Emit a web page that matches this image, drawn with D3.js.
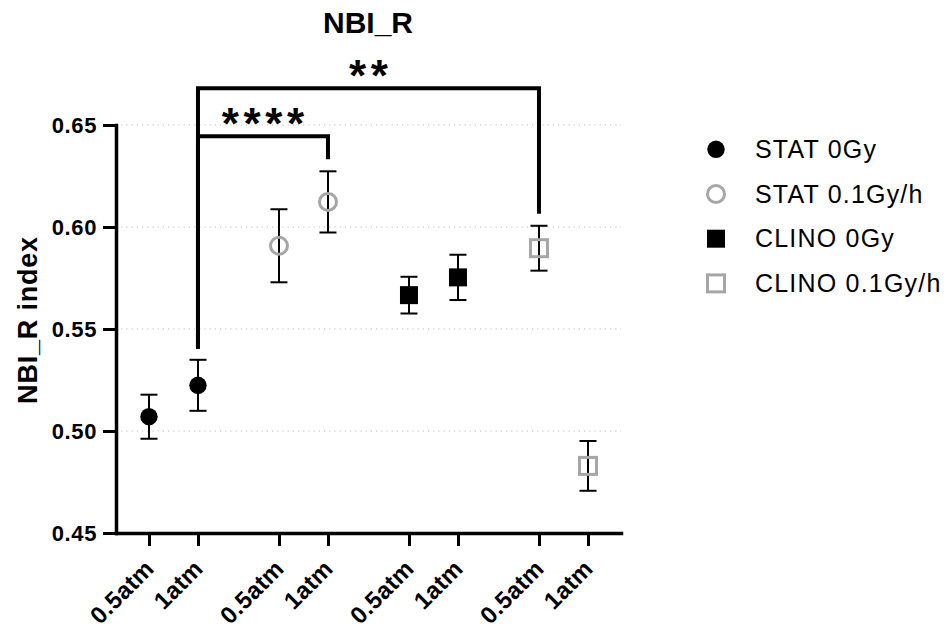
<!DOCTYPE html>
<html>
<head>
<meta charset="utf-8">
<script src="https://cdn.jsdelivr.net/npm/d3@7"></script>
<style>
  body { margin: 0; background: #fff; }
  text { font-family: "Liberation Sans", Arial, sans-serif; }
</style>
</head>
<body>
<svg id="chart" width="947" height="628"></svg>
<script>
// groups and conditions
var groups = ["STAT 0Gy", "STAT 0.1Gy/h", "CLINO 0Gy", "CLINO 0.1Gy/h"];
var pressures = ["0.5atm", "1atm"];

// mean NBI_R index per group, [0.5atm, 1atm]
var means = [[0.507, 0.5224], [0.5908, 0.6123], [0.5666, 0.5753], [0.5896, 0.4829]];
// error bar half widths
var errs = [[0.0108, 0.0125], [0.0179, 0.015], [0.009, 0.0111], [0.011, 0.0122]];

var yTicks = [0.45, 0.50, 0.55, 0.60, 0.65];

// significance brackets: indexes into the flattened points
var comparisons = [
  {from: 1, to: 3, label: "****"},
  {from: 1, to: 6, label: "**"}
];

var grey = "#a6a6a6";
var svg = d3.select("#chart");

// one slot per point, a wider gap between groups
var gap = 0.653;
var points = [];
groups.forEach(function(g, gi){
  pressures.forEach(function(p, pi){
    points.push({group: gi, name: g, pressure: p, pos: gi*(2+gap) + pi,
                 mean: means[gi][pi], err: errs[gi][pi]});
  });
});

var x = d3.scaleLinear().domain([-0.673, 9.633]).range([116, 621]);
var y = d3.scaleLinear().domain([0.45, 0.65]).range([533, 125]);

/* dotted grid */
svg.append("g").selectAll("line")
  .data(yTicks.slice(1))
  .join("line")
  .attr("x1", 116).attr("x2", 621)
  .attr("y1", d => y(d)).attr("y2", d => y(d))
  .attr("stroke", "#bdbdbd")
  .attr("stroke-width", 1.2)
  .attr("stroke-dasharray", "1.2,4");

/* axes */
var yAxis = svg.append("g")
  .attr("transform", "translate(116,0)")
  .call(d3.axisLeft(y).tickValues(yTicks).tickFormat(d3.format(".2f"))
        .tickSize(13).tickSizeOuter(0).tickPadding(6));

var xAxis = svg.append("g")
  .attr("transform", "translate(0,533)")
  .call(d3.axisBottom(x).tickValues(points.map(d => d.pos))
        .tickFormat((d, i) => points[i].pressure)
        .tickSize(13).tickSizeOuter(0));

[yAxis, xAxis].forEach(function(ax){
  ax.select(".domain").attr("stroke-width", 3.5).attr("stroke-linecap", "square");
  ax.selectAll(".tick line").attr("stroke-width", 3);
  ax.selectAll("text")
    .attr("fill", "#000")
    .attr("font-weight", "bold")
    .style("font-family", "'Liberation Sans', Arial, sans-serif");
});

yAxis.selectAll("text").attr("font-size", 22).attr("letter-spacing", 0.6);

xAxis.selectAll(".tick text")
  .attr("font-size", 24)
  .attr("letter-spacing", 0.4)
  .attr("text-anchor", "end")
  .attr("x", 0).attr("y", 0).attr("dy", 0)
  .attr("transform", "translate(6,37) rotate(-45)");

/* error bars */
var bars = svg.append("g").selectAll("g")
  .data(points)
  .join("g")
  .attr("stroke", "#000")
  .attr("stroke-width", 2);

bars.append("line")
  .attr("x1", d => x(d.pos)).attr("x2", d => x(d.pos))
  .attr("y1", d => y(d.mean - d.err)).attr("y2", d => y(d.mean + d.err));
bars.append("line")
  .attr("x1", d => x(d.pos) - 8.5).attr("x2", d => x(d.pos) + 8.5)
  .attr("y1", d => y(d.mean + d.err)).attr("y2", d => y(d.mean + d.err));
bars.append("line")
  .attr("x1", d => x(d.pos) - 8.5).attr("x2", d => x(d.pos) + 8.5)
  .attr("y1", d => y(d.mean - d.err)).attr("y2", d => y(d.mean - d.err));

// draw a marker for a group at (cx, cy)
function marker(sel, gi, cx, cy){
  if(gi == 0){
    sel.append("circle").attr("cx", cx).attr("cy", cy).attr("r", 8.7).attr("fill", "#000");
  } else if(gi == 1){
    sel.append("circle").attr("cx", cx).attr("cy", cy).attr("r", 8.5)
      .attr("fill", "none").attr("stroke", grey).attr("stroke-width", 3);
  } else if(gi == 2){
    sel.append("rect").attr("x", cx - 9).attr("y", cy - 9).attr("width", 18).attr("height", 18)
      .attr("fill", "#000");
  } else {
    sel.append("rect").attr("x", cx - 8.5).attr("y", cy - 8.5).attr("width", 17).attr("height", 17)
      .attr("fill", "none").attr("stroke", grey).attr("stroke-width", 3);
  }
}

var marks = svg.append("g");
points.forEach(function(d){
  marker(marks, d.group, x(d.pos), y(d.mean));
});

/* significance brackets */
var brk = svg.append("g");
comparisons.forEach(function(c, k){
  var a = points[c.from], b = points[c.to];
  var span = points.slice(c.from, c.to + 1);
  var top = y(d3.max(span, d => d.mean + d.err)) - 35 - 48*k;
  var xa = x(a.pos), xb = x(b.pos);
  brk.append("path")
    .attr("d", "M" + xa + "," + (y(a.mean + a.err) - 11) + "V" + top + "H" + xb +
               "V" + (y(b.mean + b.err) - 12))
    .attr("fill", "none")
    .attr("stroke", "#000")
    .attr("stroke-width", 4)
    .attr("stroke-linejoin", "miter");

  var mid = (xa + xb)/2;
  var n = c.label.length;
  c.label.split("").forEach(function(ch, i){
    brk.append("text")
      .attr("x", mid + (i - (n - 1)/2)*21.7)
      .attr("y", top + 3)
      .attr("text-anchor", "middle")
      .attr("font-size", 44)
      .attr("font-weight", "bold")
      .text(ch);
  });
});

/* title and y label */
svg.append("text")
  .attr("x", 368).attr("y", 33)
  .attr("text-anchor", "middle")
  .attr("font-size", 30)
  .attr("font-weight", "bold")
  .text("NBI_R");

svg.append("text")
  .attr("transform", "translate(37,320) rotate(-90)")
  .attr("text-anchor", "middle")
  .attr("font-size", 27)
  .attr("font-weight", "bold")
  .attr("letter-spacing", 0.8)
  .text("NBI_R index");

/* legend */
var legend = svg.append("g");
groups.forEach(function(g, i){
  var ly = 149.3 + i*44.7;
  marker(legend, i, 716, ly);
  legend.append("text")
    .attr("x", 755).attr("y", ly + 8.5)
    .attr("font-size", 25)
    .attr("letter-spacing", 1.2)
    .text(g);
});
</script>
</body>
</html>
